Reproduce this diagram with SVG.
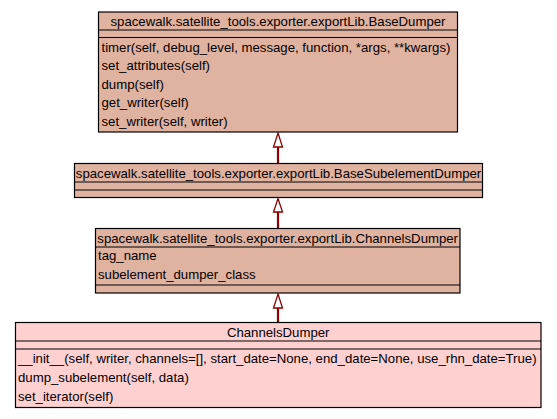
<svg xmlns="http://www.w3.org/2000/svg" width="557" height="419" viewBox="0 0 557 419">
<style>
.box{fill:#e0b2a0;stroke:#000;stroke-width:1.2}
.cur{fill:#ffd0d0;stroke:#000;stroke-width:1.2}
.sep{stroke:#000;stroke-width:1.2}
text{font-family:"Liberation Sans",Arial,sans-serif;font-size:13.2px;fill:#000}
.c{text-anchor:middle}
.edge{stroke:#8b0000;stroke-width:2.2;fill:none}
.head{fill:#fff;stroke:#8b0000;stroke-width:1.3}
</style>
<rect width="557" height="419" fill="#fff"/>
<g id="connectors">
<line class="edge" x1="278" y1="147" x2="278" y2="163.5"/>
<polygon class="head" points="278,133 282.5,147 273.5,147"/>
<line class="edge" x1="278" y1="212" x2="278" y2="228.5"/>
<polygon class="head" points="278,198.5 282.5,212 273.5,212"/>
<line class="edge" x1="278" y1="308" x2="278" y2="322.5"/>
<polygon class="head" points="278,294 282.5,308 273.5,308"/>
</g>
<g id="BaseDumper">
<rect class="box" x="98.5" y="12" width="359" height="120"/>
<line class="sep" x1="98.5" y1="30" x2="457.5" y2="30"/>
<line class="sep" x1="98.5" y1="37.5" x2="457.5" y2="37.5"/>
<text class="c" x="278" y="25.5">spacewalk.satellite_tools.exporter.exportLib.BaseDumper</text>
<text x="101.5" y="51.5">timer(self, debug_level, message, function, *args, **kwargs)</text>
<text x="101.5" y="70">set_attributes(self)</text>
<text x="101.5" y="88.5">dump(self)</text>
<text x="101.5" y="107">get_writer(self)</text>
<text x="101.5" y="125.5">set_writer(self, writer)</text>
</g>
<g id="BaseSubelementDumper">
<rect class="box" x="74.5" y="163.5" width="408" height="34"/>
<line class="sep" x1="74.5" y1="182" x2="482.5" y2="182"/>
<line class="sep" x1="74.5" y1="190" x2="482.5" y2="190"/>
<text class="c" x="278.5" y="177.5">spacewalk.satellite_tools.exporter.exportLib.BaseSubelementDumper</text>
</g>
<g id="ExportChannelsDumper">
<rect class="box" x="95.5" y="228.5" width="364.5" height="64.5"/>
<line class="sep" x1="95.5" y1="247" x2="460" y2="247"/>
<line class="sep" x1="95.5" y1="285" x2="460" y2="285"/>
<text class="c" x="277.7" y="242.5">spacewalk.satellite_tools.exporter.exportLib.ChannelsDumper</text>
<text x="98" y="259.5">tag_name</text>
<text x="98" y="278.5">subelement_dumper_class</text>
</g>
<g id="ChannelsDumper">
<rect class="cur" x="15.5" y="322.5" width="525.5" height="85"/>
<line class="sep" x1="15.5" y1="341" x2="541" y2="341"/>
<line class="sep" x1="15.5" y1="349" x2="541" y2="349"/>
<text class="c" x="278.2" y="336.5">ChannelsDumper</text>
<text x="18" y="362.5">__init__(self, writer, channels=[], start_date=None, end_date=None, use_rhn_date=True)</text>
<text x="18" y="381.5">dump_subelement(self, data)</text>
<text x="18" y="400.5">set_iterator(self)</text>
</g>
</svg>
